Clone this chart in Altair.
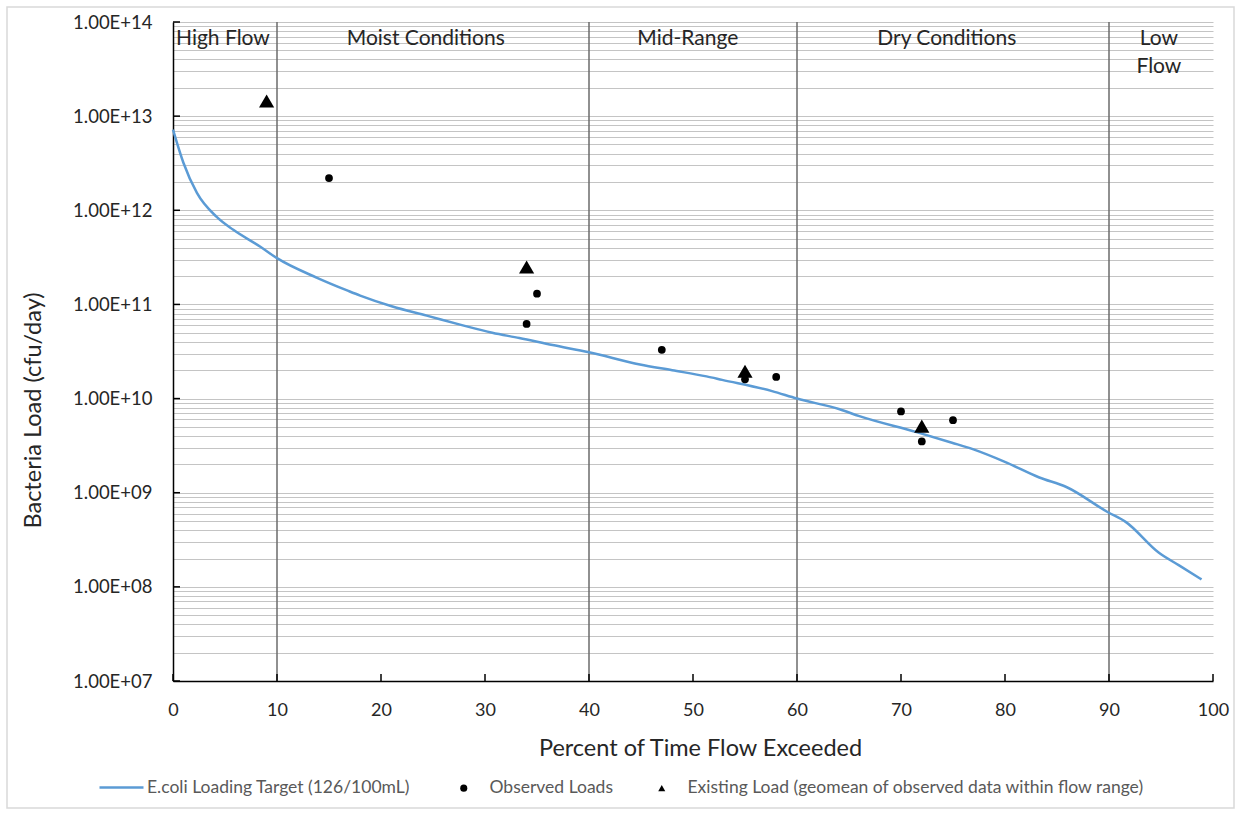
import altair as alt
import pandas as pd

# ---- data ----
curve_x = [0, 1, 2.3, 4.2, 5.8, 8.4, 10, 13.8, 16.8, 18, 21.1, 24.4, 27.6, 30.7, 33.3,
           36.5, 40, 44.9, 48, 51.3, 52.8, 57.6, 60, 64.1, 66, 71.5, 74.9, 76.9, 80.1,
           83.3, 85.9, 89.9, 91.6, 94.8, 96.7, 98.9]
curve_y = [7.2e12, 3.2e12, 1.53e12, 8.5e11, 6.2e11, 4.1e11, 3.1e11, 1.93e11, 1.40e11,
           1.24e11, 9.5e10, 7.6e10, 6.1e10, 5.0e10, 4.4e10, 3.7e10, 3.1e10, 2.3e10,
           2.0e10, 1.72e10, 1.58e10, 1.2e10, 1.0e10, 7.7e9, 6.5e9, 4.4e9, 3.4e9, 2.9e9,
           2.1e9, 1.45e9, 1.15e9, 6.2e8, 4.9e8, 2.3e8, 1.7e8, 1.2e8]

obs_x = [15, 34, 35, 47, 55, 58, 70, 72, 75]
obs_y = [2.2e12, 6.2e10, 1.3e11, 3.3e10, 1.6e10, 1.7e10, 7.3e9, 3.5e9, 5.9e9]

exist_x = [9, 34, 55, 72]
exist_y = [1.45e13, 2.5e11, 1.95e10, 5.1e9]

region_bounds = [10, 40, 60, 90]
region_label_x = [4.8, 24.3, 49.5, 74.4, 94.8]
region_labels = ["High Flow", "Moist Conditions", "Mid-Range", "Dry Conditions", "Low\nFlow"]

x_ticks = [0, 10, 20, 30, 40, 50, 60, 70, 80, 90, 100]
y_decades = [1e7, 1e8, 1e9, 1e10, 1e11, 1e12, 1e13, 1e14]
y_grid = [m * 10 ** k for k in range(7, 14) for m in range(1, 10)] + [1e14]

LINE_NAME = "E.coli Loading Target (126/100mL)"
OBS_NAME = "Observed Loads"
EX_NAME = "Existing Load (geomean of observed data within flow range)"

FONT = "Lato"
W, H = 1040, 659
LEG_FS = 17.5

curve_df = pd.DataFrame({"x": curve_x, "y": curve_y, "series": LINE_NAME})
obs_df = pd.DataFrame({"x": obs_x, "y": obs_y, "kind": OBS_NAME})
ex_df = pd.DataFrame({"x": exist_x, "y": exist_y, "kind": EX_NAME})
bounds_df = pd.DataFrame({"x": region_bounds})
labels_df = pd.DataFrame({"x": region_label_x, "label": region_labels})
xt_df = pd.DataFrame({"x": x_ticks})
yt_df = pd.DataFrame({"y": y_decades})

xscale = alt.Scale(domain=[0, 100], nice=False, zero=False)
yscale = alt.Scale(type="log", domain=[1e7, 1e14], nice=False)

label_expr = (
    "abs(log(datum.value)/LN10 - round(log(datum.value)/LN10)) < 0.001 ? "
    "'1.00E+' + (round(log(datum.value)/LN10) < 10 ? '0' : '') + round(log(datum.value)/LN10) : ''"
)

x_enc = alt.X("x:Q", scale=xscale, title="Percent of Time Flow Exceeded",
              axis=alt.Axis(values=x_ticks, grid=False, ticks=False, tickSize=0,
                            labelPadding=20, labelFlush=False, labelFontSize=18,
                            titleFontSize=23.5, titleX=527, titleY=67,
                            titleBaseline="middle", titleAlign="center",
                            titleFontWeight="normal"))
y_enc = alt.Y("y:Q", scale=yscale, title="Bacteria Load (cfu/day)",
              axis=alt.Axis(values=y_grid, grid=True, ticks=False, tickSize=0,
                            labelExpr=label_expr, labelOverlap=False, labelFlush=False,
                            labelPadding=21, labelFontSize=18.5,
                            titleFontSize=23.5, titleX=-140, titleY=388, titleAngle=-90,
                            titleBaseline="middle", titleAlign="center",
                            titleFontWeight="normal"))

shape_scale = alt.Scale(domain=[OBS_NAME, EX_NAME], range=["circle", "triangle-up"])
shape_legend = alt.Legend(title=None, orient="none", direction="horizontal",
                          legendX=282, legendY=757, symbolSize=50,
                          symbolFillColor="black", symbolStrokeColor="black",
                          symbolStrokeWidth=0,
                          labelOffset=17, columnPadding=40, labelLimit=0,
                          labelFontSize=LEG_FS, labelColor="#595959",
                          labelFont=FONT, padding=0)

frame = alt.Chart(pd.DataFrame({"a": [0]})).mark_rect(
    fillOpacity=0, stroke="#d9d9d9", strokeWidth=1.5, clip=False
).encode(x=alt.value(7 - 173), x2=alt.value(1234 - 173),
         y=alt.value(7 - 22), y2=alt.value(808 - 22))

bound_lines = alt.Chart(bounds_df).mark_rule(color="#6b6b6b", strokeWidth=1.5).encode(
    x=alt.X("x:Q", scale=xscale))

x_tickmarks = alt.Chart(xt_df).mark_rule(color="black", strokeWidth=1.5).encode(
    x=alt.X("x:Q", scale=xscale), y=alt.value(H), y2=alt.value(H - 7))
y_tickmarks = alt.Chart(yt_df).mark_rule(color="black", strokeWidth=1.5).encode(
    y=alt.Y("y:Q", scale=yscale), x=alt.value(0), x2=alt.value(7))

line = alt.Chart(curve_df).mark_line(strokeWidth=2.5, interpolate="monotone").encode(
    x=x_enc, y=y_enc,
    color=alt.Color("series:N",
                    scale=alt.Scale(domain=[LINE_NAME], range=["#5B9BD5"]),
                    legend=alt.Legend(title=None, orient="none", legendX=-75, legendY=742,
                                      symbolType="stroke", symbolSize=1936,
                                      symbolStrokeWidth=2.5, labelOffset=2, labelLimit=0,
                                      labelFontSize=LEG_FS, labelColor="#595959",
                                      labelFont=FONT, padding=0)),
)

dots = alt.Chart(obs_df).mark_point(filled=True, color="black", opacity=1, size=60).encode(
    x=alt.X("x:Q", scale=xscale),
    y=alt.Y("y:Q", scale=yscale),
    shape=alt.Shape("kind:N", scale=shape_scale, legend=shape_legend),
)
tris = alt.Chart(ex_df).mark_point(filled=True, color="black", opacity=1, size=230).encode(
    x=alt.X("x:Q", scale=xscale),
    y=alt.Y("y:Q", scale=yscale),
    shape=alt.Shape("kind:N", scale=shape_scale, legend=shape_legend),
)

region_text = alt.Chart(labels_df).mark_text(
    fontSize=21, font=FONT, color="#262626", baseline="top", align="center",
    lineBreak="\n", lineHeight=28
).encode(x=alt.X("x:Q", scale=xscale), y=alt.value(6), text="label:N")

chart = alt.layer(
    frame, bound_lines, line, x_tickmarks, y_tickmarks, dots, tris, region_text
).properties(
    width=W, height=H,
    autosize=alt.AutoSizeParams(type="none"),
    padding={"left": 173, "top": 22, "right": 31, "bottom": 132},
    background="white",
).configure_axis(
    labelFont=FONT, titleFont=FONT, labelColor="#262626", titleColor="#262626",
    domainColor="black", domainWidth=1.5, gridColor="#c4c4c4", gridWidth=1,
).configure_view(stroke=None)

chart.save("out.html", embed_options={"renderer": "svg", "actions": False})
